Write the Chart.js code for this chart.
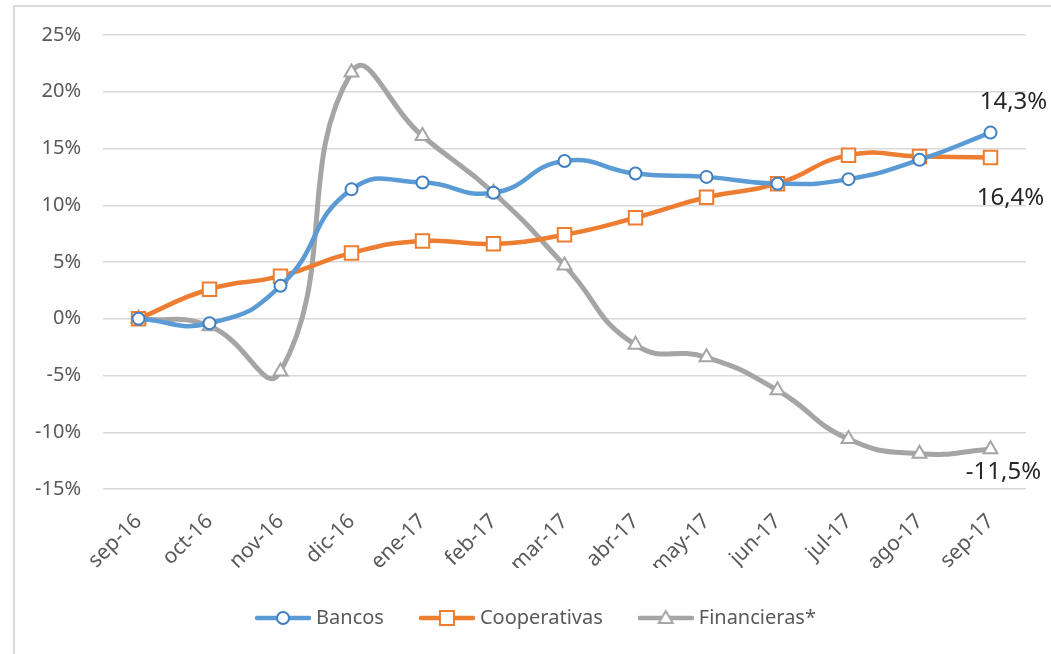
<!DOCTYPE html>
<html>
<head>
<meta charset="utf-8">
<script src="https://cdn.jsdelivr.net/npm/chart.js@4.4.1/dist/chart.umd.min.js"></script>
<style>
    html, body { margin: 0; padding: 0; background: #ffffff; }
    #wrap { position: relative; width: 1051px; height: 654px; overflow: hidden; }
    #frame { position: absolute; left: 13px; top: 5px; width: 1200px; height: 800px; border: 2px solid #D9D9D9; box-sizing: border-box; }
    #chart { position: absolute; left: 0; top: 0; }
</style>
</head>
<body>
<div id="wrap">
    <div id="frame"></div>
    <canvas id="chart" width="1051" height="654"></canvas>
</div>
<script>
// Variación anual por tipo de entidad

const months = ['sep-16', 'oct-16', 'nov-16', 'dic-16', 'ene-17', 'feb-17', 'mar-17',
    'abr-17', 'may-17', 'jun-17', 'jul-17', 'ago-17', 'sep-17'];

const bancos = [0, -0.4, 2.9, 11.4, 12.0, 11.1, 13.9, 12.8, 12.5, 11.9, 12.3, 14.0, 16.4];
const cooperativas = [0, 2.6, 3.75, 5.8, 6.85, 6.6, 7.4, 8.9, 10.7, 11.9, 14.4, 14.3, 14.2];
const financieras = [0, -0.65, -4.65, 21.7, 16.1, 11.1, 4.7, -2.3, -3.4, -6.3, -10.6, -11.9, -11.5];

const seriesNames = ['Bancos', 'Cooperativas', 'Financieras*'];
// etiquetas del último punto, tal como aparecen en el gráfico original
const endLabels = ['14,3%', '16,4%', '-11,5%'];

const FONT = '"Noto Sans", "Open Sans", sans-serif';
const colors = {
    blue: '#5B9BD5',
    blueDark: '#3F7FC0',
    orange: '#ED7D31',
    gray: '#A5A5A5',
    grid: '#D9D9D9',
    text: '#595959'
};

/**
 * Legend swatch: a short thick line with the series marker in the middle
 */
function legendSwatch(color, markerColor, style) {
    const c = document.createElement('canvas');
    c.width = 56;
    c.height = 20;
    const g = c.getContext('2d');
    g.strokeStyle = color;
    g.lineWidth = 4.5;
    g.lineCap = 'round';
    g.beginPath();
    g.moveTo(2, 10);
    g.lineTo(54, 10);
    g.stroke();
    g.fillStyle = '#ffffff';
    g.strokeStyle = markerColor;
    g.lineWidth = 2;
    g.beginPath();
    if (style === 'circle') {
        g.arc(28, 10, 6, 0, Math.PI * 2);
    } else if (style === 'rect') {
        g.rect(21, 3, 14, 14);
    } else {
        g.moveTo(28, 3);
        g.lineTo(35, 15);
        g.lineTo(21, 15);
        g.closePath();
    }
    g.fill();
    g.stroke();
    return c;
}

const endLabelPlugin = {
    id: 'endLabels',
    afterDatasetsDraw(chart) {
        const ctx = chart.ctx;
        const offsets = [[23, -30], [20, 41], [13, 23]];
        ctx.save();
        ctx.font = '24px ' + FONT;
        ctx.fillStyle = '#262626';
        ctx.textAlign = 'center';
        ctx.textBaseline = 'middle';
        endLabels.forEach((txt, i) => {
            const pts = chart.getDatasetMeta(i).data;
            const p = pts[pts.length - 1];
            ctx.fillText(txt, p.x + offsets[i][0], p.y + offsets[i][1]);
        });
        ctx.restore();
    }
};

// the original legend sits a bit right of the page centre
const legendShift = {
    id: 'legendShift',
    afterUpdate(chart) {
        chart.legend.left += 25;
        chart.legend.right += 25;
    }
};

const swatches = [
    legendSwatch(colors.blue, colors.blueDark, 'circle'),
    legendSwatch(colors.orange, colors.orange, 'rect'),
    legendSwatch(colors.gray, colors.gray, 'triangle')
];

function makeSeries(label, data, color, pointColor, style, radius, width) {
    return {
        label,
        data,
        borderColor: color,
        borderWidth: width,
        tension: 0.5,
        pointStyle: style,
        pointRadius: radius,
        pointHoverRadius: radius,
        pointBorderWidth: 2,
        pointBorderColor: pointColor,
        pointBackgroundColor: '#ffffff'
    };
}

new Chart(document.getElementById('chart'), {
    type: 'line',
    plugins: [endLabelPlugin, legendShift],
    data: {
        labels: months,
        datasets: [
            makeSeries(seriesNames[0], bancos, colors.blue, colors.blueDark, 'circle', 6, 4.5),
            makeSeries(seriesNames[1], cooperativas, colors.orange, colors.orange, 'rect', 9.5, 4.5),
            makeSeries(seriesNames[2], financieras, colors.gray, colors.gray, 'triangle', 8, 5)
        ]
    },
    options: {
        responsive: false,
        animation: false,
        layout: {
            padding: { top: 35, right: 25, left: 0, bottom: 16 }
        },
        scales: {
            x: {
                offset: true,
                grid: { display: false, drawTicks: false },
                border: { display: false },
                ticks: {
                    color: colors.text,
                    font: { family: FONT, size: 21 },
                    minRotation: 45,
                    maxRotation: 45,
                    padding: 20
                },
                afterFit(scale) { scale.height = 79; }
            },
            y: {
                min: -15,
                max: 25,
                grid: { color: colors.grid, lineWidth: 1.5, drawTicks: false },
                border: { display: false },
                ticks: {
                    stepSize: 5,
                    color: colors.text,
                    font: { family: FONT, size: 20 },
                    padding: 22,
                    callback: v => v + '%'
                },
                afterFit(scale) { scale.width = 103; }
            }
        },
        plugins: {
            tooltip: { enabled: false },
            legend: {
                position: 'bottom',
                labels: {
                    color: colors.text,
                    font: { family: FONT, size: 20 },
                    usePointStyle: true,
                    pointStyleWidth: 46,
                    padding: 40,
                    generateLabels(chart) {
                        return chart.data.datasets.map((ds, i) => ({
                            text: ds.label,
                            pointStyle: swatches[i],
                            fontColor: colors.text,
                            datasetIndex: i,
                            hidden: false
                        }));
                    }
                }
            }
        }
    }
});
</script>
</body>
</html>
